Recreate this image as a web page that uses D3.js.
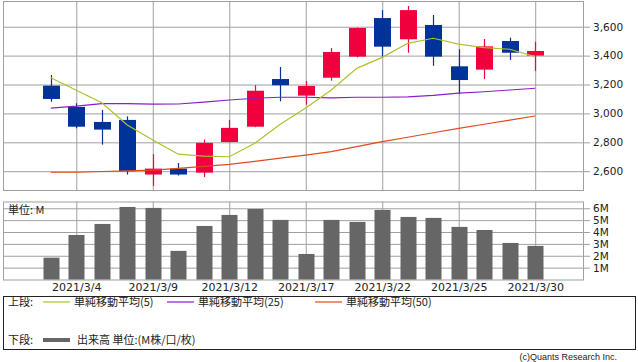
<!DOCTYPE html>
<html lang="ja">
<head>
<meta charset="utf-8">
<title>chart</title>
<script src="https://cdn.jsdelivr.net/npm/d3@7"></script>
<style>
  body { margin: 0; background: #fff; }
  text { font-family: "DejaVu Sans", sans-serif; fill: #222; }
  .jp { font-family: "Noto Sans CJK JP", sans-serif; }
</style>
</head>
<body>
<svg id="chart" width="638" height="362"></svg>
<script>
var dates = ["2021/3/3","2021/3/4","2021/3/5","2021/3/8","2021/3/9","2021/3/10","2021/3/11","2021/3/12","2021/3/15","2021/3/16",
             "2021/3/17","2021/3/18","2021/3/19","2021/3/22","2021/3/23","2021/3/24","2021/3/25","2021/3/26","2021/3/29","2021/3/30"];
var open  = [3192,3045,2941,2955,2577,2618,2590,2802,2908,3238,3123,3247,3393,3660,3513,3612,3326,3303,3501,3400];
var high  = [3266,3070,3024,2980,2718,2657,2819,2955,3195,3321,3224,3453,3595,3715,3743,3681,3444,3515,3524,3496];
var low   = [3081,2897,2784,2577,2498,2570,2559,2800,2905,3084,3061,3227,3388,3393,3420,3330,3133,3238,3370,3294];
var close = [3100,2908,2888,2600,2618,2577,2796,2900,3157,3195,3190,3425,3591,3462,3715,3393,3231,3464,3420,3432];
var ma5   = [3247,3160,3074,2920,2816,2718,2705,2700,2793,2925,3037,3162,3312,3388,3485,3520,3480,3455,3444,3393];
var ma25  = [3036,3050,3068,3068,3064,3065,3078,3093,3105,3112,3112,3108,3112,3112,3115,3125,3140,3150,3162,3174];
var ma50  = [2593,2593,2598,2603,2607,2620,2634,2648,2668,2690,2712,2735,2770,2805,2835,2866,2897,2925,2953,2982];
var volume = [1.84,3.75,4.68,6.11,6.03,2.41,4.51,5.44,5.94,5.02,2.15,5.02,4.85,5.86,5.27,5.19,4.43,4.17,3.08,2.83];
var tickDates = ["2021/3/4","2021/3/9","2021/3/12","2021/3/17","2021/3/22","2021/3/25","2021/3/30"];
var priceTicks = [2600,2800,3000,3200,3400,3600];
var volTicks = [1,2,3,4,5,6];

var svg = d3.select("#chart");
var left = 3, right = 583;
var top1 = 1, bot1 = 190, top2 = 201.5, bot2 = 279.5;
var grid = "#a0a0a0", upColor = "#f0003c", downColor = "#003399";

var x = d3.scalePoint().domain(dates).range([left, right]).padding(1.875);
var y = d3.scaleLinear().domain([2470, 3778]).range([bot1, top1]);
var yv = d3.scaleLinear().domain([0, 6.57]).range([bot2, top2]);

var data = dates.map(function(d, i) {
  return {date: d, o: open[i], h: high[i], l: low[i], c: close[i], v: volume[i]};
});

// grids for both panes
function pane(yScale, ticks, fmt, y0, y1) {
  var g = svg.append("g");
  g.append("g")
    .attr("transform", "translate(" + right + ",0)")
    .call(d3.axisLeft(yScale).tickValues(ticks).tickSize(right - left).tickFormat(""))
    .call(function(a) { a.select(".domain").remove(); a.selectAll("line").attr("stroke", grid); });
  g.append("g")
    .attr("transform", "translate(0," + y1 + ")")
    .call(d3.axisBottom(x).tickValues(tickDates).tickSize(y0 - y1).tickFormat(""))
    .call(function(a) { a.select(".domain").remove(); a.selectAll("line").attr("stroke", grid); });
  g.append("rect").attr("x", left + 0.5).attr("y", y1 + 0.5)
    .attr("width", right - left).attr("height", y0 - y1)
    .attr("fill", "none").attr("stroke", grid);
  var ax = g.append("g")
    .attr("transform", "translate(" + right + ",0)")
    .call(d3.axisRight(yScale).tickValues(ticks).tickSize(7).tickPadding(3).tickFormat(fmt));
  ax.select(".domain").remove();
  ax.selectAll("line").attr("stroke", grid);
  ax.selectAll("text").attr("font-size", 10.5).style("font-family", "DejaVu Sans").attr("fill", "#222");
  return g;
}
pane(y, priceTicks, d3.format(","), bot1, top1);
pane(yv, volTicks, function(d) { return d + "M"; }, bot2, top2);

// candles
var cw = 17;
var candles = svg.append("g").selectAll("g").data(data).enter().append("g");
candles.append("line")
  .attr("x1", function(d) { return Math.round(x(d.date)) + 0.5; })
  .attr("x2", function(d) { return Math.round(x(d.date)) + 0.5; })
  .attr("y1", function(d) { return y(d.h); })
  .attr("y2", function(d) { return y(d.l); })
  .attr("stroke", function(d) { return d.c >= d.o ? upColor : downColor; })
  .attr("stroke-width", 1.2);
candles.append("rect")
  .attr("x", function(d) { return Math.round(x(d.date)) - cw / 2 + 0.5; })
  .attr("y", function(d) { return y(Math.max(d.o, d.c)); })
  .attr("width", cw)
  .attr("height", function(d) { return Math.max(1, y(Math.min(d.o, d.c)) - y(Math.max(d.o, d.c))); })
  .attr("fill", function(d) { return d.c >= d.o ? upColor : downColor; });

// moving averages
var lineGen = d3.line().x(function(d, i) { return x(dates[i]); }).y(function(d) { return y(d); });
[[ma50, "#e04a1e"], [ma25, "#8a1fc8"], [ma5, "#b0c030"]].forEach(function(s) {
  svg.append("path").attr("d", lineGen(s[0])).attr("fill", "none")
    .attr("stroke", s[1]).attr("stroke-width", 1.2);
});

// volume
svg.append("g").selectAll("rect").data(data).enter().append("rect")
  .attr("x", function(d) { return Math.round(x(d.date)) - 8 + 0.5; })
  .attr("y", function(d) { return yv(d.v); })
  .attr("width", 16)
  .attr("height", function(d) { return bot2 - yv(d.v); })
  .attr("fill", "#666");

svg.append("text").attr("class", "jp").attr("x", 8).attr("y", 214)
  .attr("font-size", 11).text("単位: M");

// x labels
var xa = svg.append("g").attr("transform", "translate(0," + bot2 + ")")
  .call(d3.axisBottom(x).tickValues(tickDates).tickSize(0).tickPadding(4));
xa.select(".domain").remove();
xa.selectAll("text").attr("font-size", 11).style("font-family", "DejaVu Sans").attr("fill", "#222");

// legend
var lg = svg.append("g");
lg.append("rect").attr("x", 3.5).attr("y", 296.5).attr("width", 632).attr("height", 53)
  .attr("fill", "none").attr("stroke", "#222");
lg.append("text").attr("class", "jp").attr("x", 8).attr("y", 306).attr("font-size", 11).text("上段:");
var items = [["単純移動平均(5)", "#b0c030", 43], ["単純移動平均(25)", "#8a1fc8", 167], ["単純移動平均(50)", "#e04a1e", 315]];
items.forEach(function(it) {
  lg.append("line").attr("x1", it[2]).attr("x2", it[2] + 27).attr("y1", 302).attr("y2", 302)
    .attr("stroke", it[1]).attr("stroke-width", 1.2);
  lg.append("text").attr("class", "jp").attr("x", it[2] + 31).attr("y", 306).attr("font-size", 11).text(it[0]);
});
lg.append("text").attr("class", "jp").attr("x", 8).attr("y", 344).attr("font-size", 11).text("下段:");
lg.append("line").attr("x1", 43).attr("x2", 70).attr("y1", 340).attr("y2", 340)
  .attr("stroke", "#666").attr("stroke-width", 4);
lg.append("text").attr("class", "jp").attr("x", 77).attr("y", 344).attr("font-size", 11).text("出来高 単位:(M株/口/枚)");

svg.append("text").attr("x", 617).attr("y", 360).attr("text-anchor", "end")
  .attr("font-size", 9).style("font-family", "Liberation Sans").attr("fill", "#555")
  .text("(c)Quants Research Inc.");
</script>
</body>
</html>
